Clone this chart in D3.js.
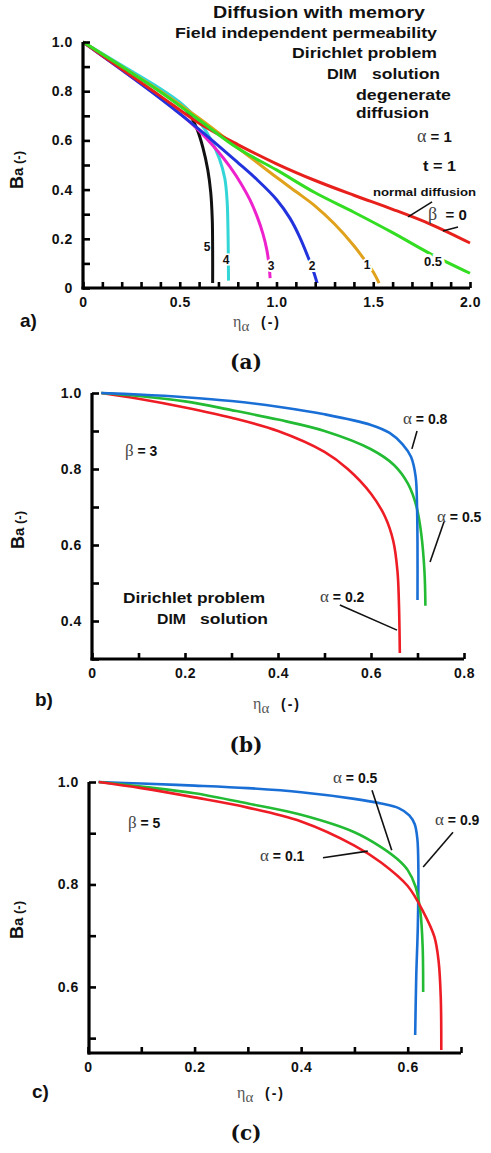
<!DOCTYPE html>
<html><head><meta charset="utf-8">
<script src="https://cdn.jsdelivr.net/npm/d3@7"></script>
<style>body{margin:0;background:#fff}svg{display:block}</style>
</head><body>
<svg id="chart" width="491" height="1153"></svg>
<script>
// ---------- Panel a: Ba vs eta, alpha = 1, t = 1, several beta ----------
const aBetaLabels = ["0", "0.5", "1", "2", "3", "4", "5"];
const aBeta0 = [[0,1],[0.2,0.89],[0.4,0.78],[0.6,0.67],[0.8,0.583],[1.0,0.505],[1.2,0.437],[1.4,0.377],[1.6,0.32],[1.8,0.258],[2.0,0.183]];
const aBeta05 = [[0,1],[0.2,0.9],[0.4,0.797],[0.6,0.683],[0.8,0.568],[1.0,0.48],[1.2,0.387],[1.4,0.308],[1.6,0.225],[1.8,0.137],[2.0,0.06]];
const aBeta1 = [[0,1],[0.2,0.9],[0.4,0.8],[0.6,0.69],[0.8,0.57],[0.9,0.51],[1.0,0.45],[1.1,0.392],[1.2,0.333],[1.3,0.26],[1.4,0.172],[1.45,0.12],[1.5,0.065],[1.53,0.02]];
const aBeta2 = [[0,1],[0.2,0.887],[0.4,0.77],[0.6,0.645],[0.8,0.51],[0.9,0.44],[1.0,0.36],[1.07,0.283],[1.12,0.207],[1.163,0.126],[1.19,0.07],[1.21,0.02]];
const aBeta3 = [[0,1],[0.2,0.887],[0.4,0.772],[0.57,0.662],[0.7,0.553],[0.76,0.492],[0.82,0.42],[0.863,0.358],[0.9,0.29],[0.93,0.22],[0.95,0.155],[0.962,0.09],[0.967,0.04]];
const aBeta4 = [[0,1],[0.2,0.905],[0.4,0.81],[0.5,0.755],[0.6,0.677],[0.66,0.605],[0.705,0.525],[0.733,0.445],[0.745,0.35],[0.75,0.2],[0.752,0.03]];
const aBeta5 = [[0,1],[0.2,0.9],[0.4,0.805],[0.5,0.75],[0.553,0.703],[0.59,0.645],[0.62,0.57],[0.645,0.48],[0.66,0.39],[0.668,0.28],[0.67,0.15],[0.67,0.02]];
const aXTicks = [0,0.1,0.2,0.3,0.4,0.5,0.6,0.7,0.8,0.9,1.0,1.1,1.2,1.3,1.4,1.5,1.6,1.7,1.8,1.9,2.0];
const aXLabels = [0,0.5,1.0,1.5,2.0];
const aYTicks = [0,0.1,0.2,0.3,0.4,0.5,0.6,0.7,0.8,0.9,1.0];
const aYLabels = [0,0.2,0.4,0.6,0.8,1.0];

// ---------- Panel b: beta = 3 ----------
const bAlpha02 = [[0.02,1.0],[0.1,0.985],[0.2,0.962],[0.3,0.935],[0.4,0.9],[0.5,0.845],[0.55,0.8],[0.6,0.735],[0.63,0.675],[0.648,0.61],[0.657,0.53],[0.66,0.45],[0.662,0.316]];
const bAlpha05 = [[0.02,1.0],[0.1,0.992],[0.2,0.978],[0.3,0.955],[0.4,0.93],[0.5,0.9],[0.6,0.852],[0.65,0.81],[0.68,0.76],[0.698,0.7],[0.708,0.63],[0.715,0.53],[0.717,0.44]];
const bAlpha08 = [[0.02,1.0],[0.1,0.996],[0.2,0.989],[0.3,0.979],[0.4,0.964],[0.5,0.944],[0.6,0.916],[0.64,0.895],[0.668,0.865],[0.686,0.832],[0.696,0.78],[0.699,0.7],[0.7,0.6],[0.7,0.455]];
const bXTicks = [0,0.1,0.2,0.3,0.4,0.5,0.6,0.7,0.8];
const bXLabels = [0,0.2,0.4,0.6,0.8];
const bYTicks = [0.3,0.4,0.5,0.6,0.7,0.8,0.9,1.0];
const bYLabels = [0.4,0.6,0.8,1.0];

// ---------- Panel c: beta = 5 ----------
const cAlpha01 = [[0.02,1.0],[0.1,0.988],[0.2,0.97],[0.3,0.95],[0.4,0.923],[0.5,0.876],[0.55,0.843],[0.6,0.797],[0.63,0.745],[0.65,0.698],[0.658,0.65],[0.662,0.58],[0.663,0.477]];
const cAlpha05 = [[0.02,1.0],[0.1,0.991],[0.2,0.978],[0.3,0.958],[0.4,0.936],[0.5,0.902],[0.55,0.873],[0.58,0.85],[0.6,0.828],[0.615,0.795],[0.624,0.744],[0.628,0.68],[0.629,0.59]];
const cAlpha09 = [[0.02,1.0],[0.1,0.997],[0.2,0.993],[0.3,0.988],[0.4,0.98],[0.5,0.967],[0.55,0.958],[0.583,0.949],[0.603,0.935],[0.613,0.918],[0.618,0.89],[0.62,0.83],[0.619,0.72],[0.616,0.62],[0.614,0.506]];
const cXTicks = [0,0.1,0.2,0.3,0.4,0.5,0.6,0.7];
const cXLabels = [0,0.2,0.4,0.6];
const cYTicks = [0.5,0.6,0.7,0.8,0.9,1.0];
const cYLabels = [0.6,0.8,1.0];

const SANS = "'Liberation Sans', Arial, sans-serif";
const SERIF = "'Liberation Serif', 'DejaVu Serif', serif";
const svg = d3.select("#chart");

function near(a, list) { return list.some(v => Math.abs(v - a) < 1e-6); }
function fmt(v) { return Math.abs(v) < 1e-9 ? "0" : v.toFixed(1); }

function drawAxes(g, x, y, o) {
  const xa = d3.axisBottom(x).tickValues(o.xTicks).tickSize(-o.xTick).tickSizeOuter(0).tickPadding(o.xPad)
    .tickFormat(v => near(v, o.xLabels) ? fmt(v) : "");
  const ya = d3.axisLeft(y).tickValues(o.yTicks).tickSize(-o.yTick).tickSizeOuter(0).tickPadding(o.yPad)
    .tickFormat(v => near(v, o.yLabels) ? fmt(v) : "");
  const gx = g.append("g").attr("transform", `translate(0,${y.range()[0]})`).call(xa);
  const gy = g.append("g").attr("transform", `translate(${o.yAxisX},0)`).call(ya);
  [gx, gy].forEach(a => {
    a.select(".domain").attr("stroke", "#000").attr("stroke-width", 3.2);
    a.selectAll(".tick line").attr("stroke", "#000").attr("stroke-width", 2.6);
    a.selectAll(".tick text").attr("fill", "#111").style("font-family", SANS)
      .style("font-weight", "bold").style("font-size", "14px").style("letter-spacing", "0.6px");
  });
  gy.select(".domain").attr("d", `M0,${y.range()[0] + 1.5}V${y.range()[1]}`);
  gx.select(".domain").attr("d", `M${o.yAxisX - 1.5},0H${x.range()[1]}`);
}

function txt(x0, y0, s, size, opts = {}) {
  const t = svg.append("text").attr("x", x0).attr("y", y0)
    .style("font-family", opts.family || SANS).style("font-weight", opts.weight || "bold")
    .style("font-size", size + "px").attr("fill", opts.fill || "#111")
    .attr("text-anchor", opts.anchor || "start");
  if (opts.len) t.attr("textLength", opts.len).attr("lengthAdjust", "spacingAndGlyphs");
  if (opts.halo) t.attr("stroke", "#fff").attr("stroke-width", opts.halo).attr("paint-order", "stroke");
  t.text(s);
  return t;
}

function greekLabel(x0, y0, greek, rest, size) {
  const t = svg.append("text").attr("x", x0).attr("y", y0).attr("fill", "#111");
  t.append("tspan").text(greek).style("font-family", SERIF).style("font-size", (size + 3) + "px")
    .style("font-weight", "normal").attr("fill", "#444");
  t.append("tspan").text(rest).style("font-family", SANS).style("font-size", size + "px")
    .style("font-weight", "bold");
  return t;
}

function xLabel(x0, y0) {
  const t = svg.append("text").attr("x", x0).attr("y", y0);
  t.append("tspan").text("η").style("font-family", SERIF).style("font-size", "16px").attr("fill", "#555");
  t.append("tspan").text("α").attr("dy", 4).style("font-family", SERIF).style("font-size", "15px").attr("fill", "#555");
  t.append("tspan").text("  (-)").attr("dy", -4).style("font-family", SANS).style("font-weight", "bold")
    .style("font-size", "14px").style("letter-spacing", "2px").attr("fill", "#111").attr("xml:space", "preserve");
}

function yLabel(cx, cy) {
  const t = svg.append("text").attr("transform", `translate(${cx},${cy}) rotate(-90)`).attr("text-anchor", "middle")
    .attr("fill", "#111").style("font-family", SANS).style("font-weight", "bold");
  t.append("tspan").text("B").style("font-size", "18px");
  t.append("tspan").text("a").style("font-size", "15px");
  t.append("tspan").text(" (-)").style("font-size", "13px");
}

function leader(x, y, p, q) {
  svg.append("line").attr("x1", x(p[0])).attr("y1", y(p[1])).attr("x2", x(q[0])).attr("y2", y(q[1]))
    .attr("stroke", "#111").attr("stroke-width", 1.6);
}

const line = (x, y) => d3.line().x(d => x(d[0])).y(d => y(d[1])).curve(d3.curveCatmullRom.alpha(0.5));

// =============== PANEL A ===============
{
  const x = d3.scaleLinear().domain([0, 2]).range([83, 470]);
  const y = d3.scaleLinear().domain([0, 1]).range([288, 42]);
  const g = svg.append("g");
  const series = [
    [aBeta5, "#111111"], [aBeta4, "#33d6d6"], [aBeta3, "#ee22cc"], [aBeta2, "#2233dd"],
    [aBeta1, "#e0a21c"], [aBeta0, "#e8201c"], [aBeta05, "#33dd22"]
  ];
  series.forEach(([d, c]) => g.append("path").datum(d).attr("d", line(x, y)).attr("fill", "none")
    .attr("stroke", c).attr("stroke-width", 3).attr("stroke-linecap", "butt"));
  drawAxes(g, x, y, { xTicks: aXTicks, xLabels: aXLabels, yTicks: aYTicks, yLabels: aYLabels,
    xTick: 6, yTick: 7, xPad: 9, yPad: 10, yAxisX: 83 });

  txt(319, 18, "Diffusion with memory", 16, { anchor: "middle", len: 212 });
  txt(175, 38, "Field independent permeability", 15, { len: 262 });
  txt(292, 58, "Dirichlet problem", 15, { len: 145 });
  txt(327, 79, "DIM", 15, { len: 30 });
  txt(372, 79, "solution", 15, { len: 68 });
  txt(356, 100, "degenerate", 15, { len: 95 });
  txt(356, 118, "diffusion", 15, { len: 73 });
  greekLabel(417, 142, "α", " = 1", 15);
  txt(423, 171, "t = 1", 15, { len: 33 });
  txt(373, 196, "normal diffusion", 11, { len: 103 });
  greekLabel(428, 220, "β", "  = 0", 15).attr("xml:space", "preserve");
  leader(x, y, [1.804, 0.35], [1.68, 0.289]);
  leader(x, y, [1.938, 0.248], [1.86, 0.232]);
  txt(433, 266, "0.5", 13, { anchor: "middle", halo: 6 });
  txt(207, 251, "5", 12, { anchor: "middle" });
  txt(226, 264, "4", 12, { anchor: "middle", halo: 3 });
  txt(271, 270, "3", 12, { anchor: "middle", halo: 4 });
  txt(312, 270, "2", 12, { anchor: "middle", halo: 4 });
  txt(367, 269, "1", 12, { anchor: "middle", halo: 4 });
  txt(20, 327, "a)", 19);
  xLabel(233, 327);
  yLabel(23, 170);
  txt(246, 369, "(a)", 20, { anchor: "middle", family: "'DejaVu Serif', serif" });
}

// =============== PANEL B ===============
{
  const x = d3.scaleLinear().domain([0, 0.8]).range([92, 464]);
  const y = d3.scaleLinear().domain([0.3, 1.0]).range([659, 393]);
  const g = svg.append("g");
  [[bAlpha02, "#ee1c24"], [bAlpha05, "#22bb33"], [bAlpha08, "#1a6fd6"]].forEach(([d, c]) =>
    g.append("path").datum(d).attr("d", line(x, y)).attr("fill", "none").attr("stroke", c).attr("stroke-width", 2.6));
  drawAxes(g, x, y, { xTicks: bXTicks, xLabels: bXLabels, yTicks: bYTicks, yLabels: bYLabels,
    xTick: 6, yTick: 7, xPad: 9, yPad: 10, yAxisX: 92 });
  greekLabel(125, 456, "β", " = 3", 14);
  txt(123, 603, "Dirichlet problem", 14, { len: 142 });
  txt(157, 624, "DIM", 14, { len: 29 });
  txt(200, 624, "solution", 14, { len: 68 });
  greekLabel(403, 424, "α", " = 0.8", 14);
  greekLabel(437, 522, "α", " = 0.5", 14);
  greekLabel(320, 602, "α", " = 0.2", 14);
  leader(x, y, [0.699, 0.9], [0.688, 0.853]);
  leader(x, y, [0.757, 0.661], [0.727, 0.555]);
  leader(x, y, [0.533, 0.442], [0.656, 0.376]);
  txt(35, 706, "b)", 19);
  xLabel(253, 709);
  yLabel(24, 530);
  txt(246, 752, "(b)", 20, { anchor: "middle", family: "'DejaVu Serif', serif" });
}

// =============== PANEL C ===============
{
  const x = d3.scaleLinear().domain([0, 0.7]).range([88, 461]);
  const y = d3.scaleLinear().domain([0.471, 1.0]).range([1053, 782]);
  const g = svg.append("g");
  [[cAlpha09, "#1a6fd6"], [cAlpha05, "#22bb33"], [cAlpha01, "#ee1c24"]].forEach(([d, c]) =>
    g.append("path").datum(d).attr("d", line(x, y)).attr("fill", "none").attr("stroke", c).attr("stroke-width", 2.6));
  drawAxes(g, x, y, { xTicks: cXTicks, xLabels: cXLabels, yTicks: cYTicks, yLabels: cYLabels,
    xTick: 6, yTick: 7, xPad: 9, yPad: 10, yAxisX: 89 });
  greekLabel(128, 828, "β", " = 5", 14);
  greekLabel(333, 783, "α", " = 0.5", 14);
  greekLabel(435, 825, "α", " = 0.9", 14);
  greekLabel(260, 861, "α", " = 0.1", 14);
  leader(x, y, [0.533, 0.984], [0.57, 0.867]);
  leader(x, y, [0.685, 0.902], [0.629, 0.834]);
  leader(x, y, [0.441, 0.852], [0.525, 0.865]);
  txt(32, 1098, "c)", 19);
  xLabel(237, 1098);
  yLabel(23, 920);
  txt(246, 1140, "(c)", 20, { anchor: "middle", family: "'DejaVu Serif', serif" });
}
</script>
</body></html>
